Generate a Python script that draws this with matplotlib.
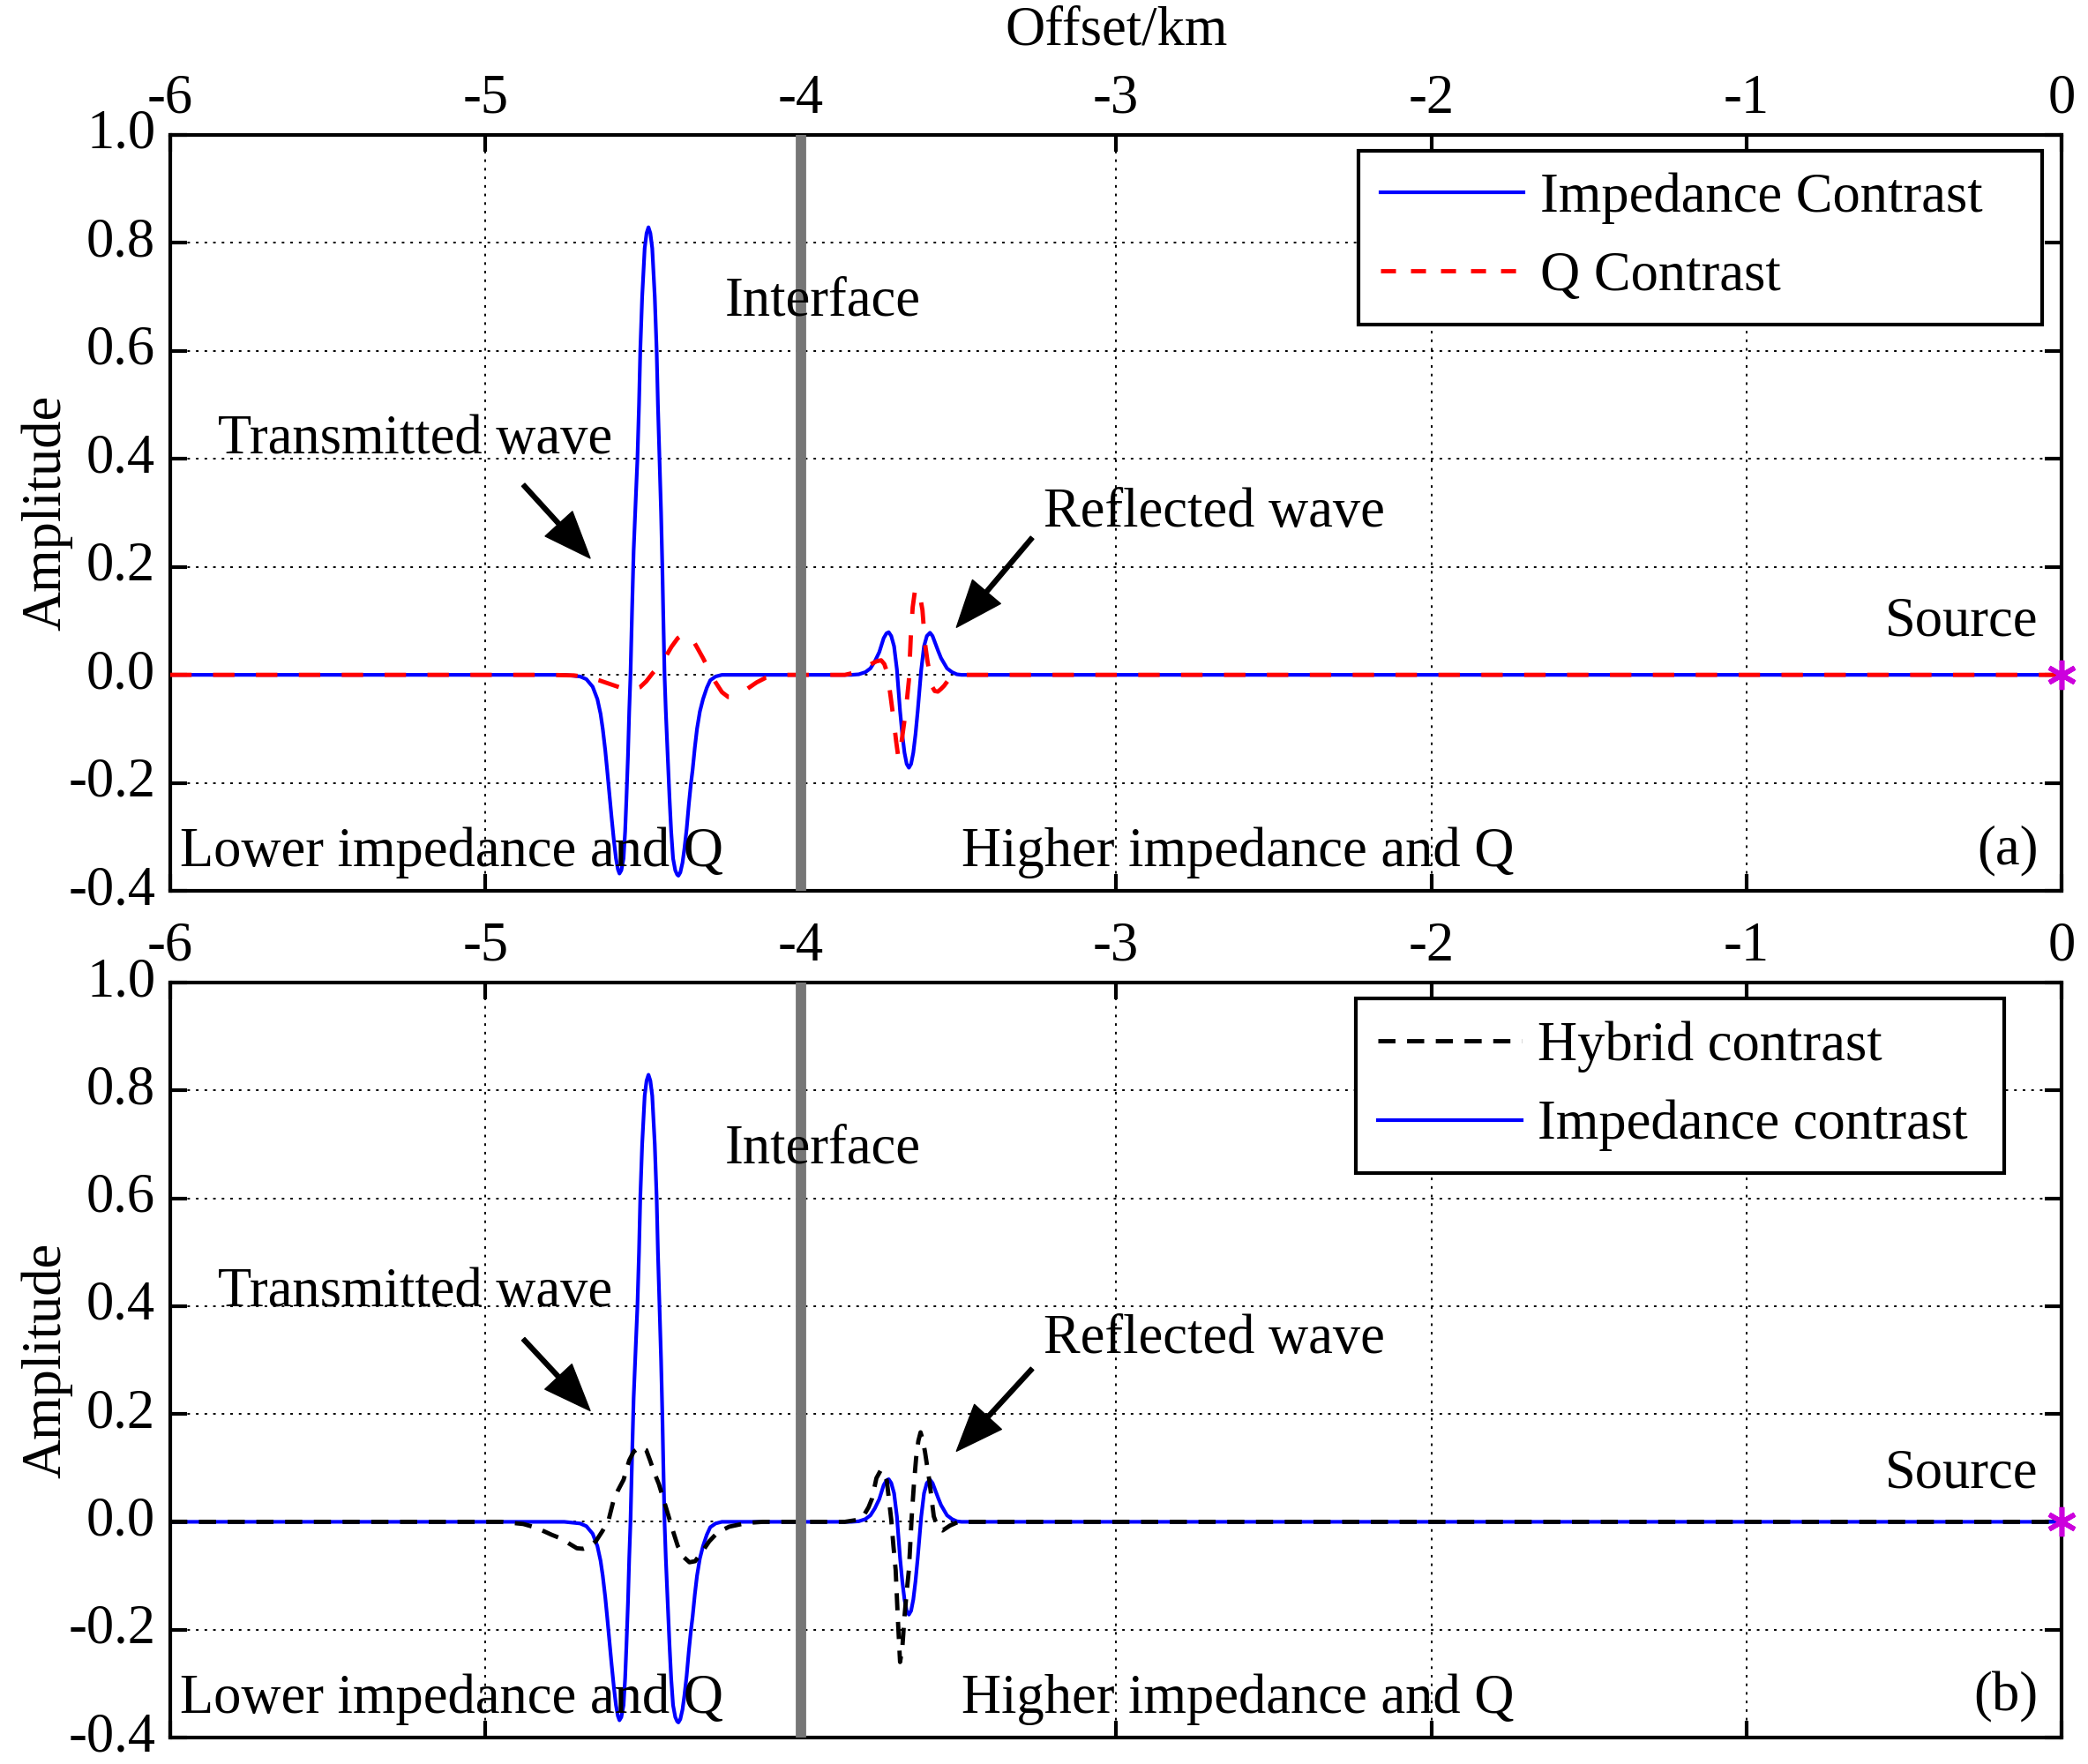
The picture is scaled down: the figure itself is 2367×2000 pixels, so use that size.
import matplotlib
matplotlib.use("Agg")
import matplotlib.pyplot as plt
from matplotlib.lines import Line2D

plt.rcParams["font.family"] = ["Liberation Serif", "DejaVu Serif"]
plt.rcParams["axes.unicode_minus"] = False

# offset range (km) and amplitude ticks
X_TICKS = [-6, -5, -4, -3, -2, -1, 0]
Y_TICKS = [-0.4, -0.2, 0.0, 0.2, 0.4, 0.6, 0.8, 1.0]
INTERFACE_X = -4.0

# impedance contrast (blue), same trace in both panels
IMP_TRANS_X = [-4.75, -4.70, -4.68, -4.66, -4.645, -4.635, -4.628, -4.620, -4.614, -4.607,
               -4.600, -4.593, -4.586, -4.580, -4.575, -4.569, -4.562, -4.557, -4.553, -4.548,
               -4.544, -4.540, -4.535, -4.530, -4.523, -4.518, -4.513, -4.509, -4.503, -4.495,
               -4.489, -4.483, -4.477, -4.471, -4.463, -4.457, -4.453, -4.448, -4.443, -4.439,
               -4.436, -4.432, -4.428, -4.422, -4.416, -4.411, -4.405, -4.398, -4.392, -4.388,
               -4.382, -4.375, -4.369, -4.362, -4.355, -4.349, -4.343, -4.336, -4.329, -4.320,
               -4.310, -4.298, -4.287, -4.270, -4.25]
IMP_TRANS_Y = [0.0, -0.003, -0.008, -0.022, -0.045, -0.072, -0.100, -0.140, -0.176, -0.220,
               -0.264, -0.305, -0.340, -0.360, -0.368, -0.362, -0.340, -0.290, -0.231, -0.150,
               -0.067, 0.0, 0.120, 0.230, 0.330, 0.400, 0.500, 0.600, 0.700, 0.790,
               0.818, 0.829, 0.818, 0.790, 0.700, 0.600, 0.500, 0.400, 0.300, 0.200,
               0.110, 0.0, -0.067, -0.150, -0.231, -0.290, -0.340, -0.362, -0.370, -0.372,
               -0.366, -0.348, -0.322, -0.286, -0.240, -0.205, -0.176, -0.135, -0.100, -0.068,
               -0.045, -0.024, -0.010, -0.003, 0.0]
IMP_REFL_X = [-3.84, -3.816, -3.795, -3.779, -3.765, -3.751, -3.737, -3.728, -3.721, -3.713,
              -3.704, -3.695, -3.685, -3.678, -3.671, -3.664, -3.657, -3.650, -3.643, -3.636,
              -3.629, -3.618, -3.609, -3.600, -3.590, -3.582, -3.573, -3.564, -3.555, -3.536,
              -3.520, -3.505, -3.49]
IMP_REFL_Y = [0.0, 0.001, 0.005, 0.012, 0.025, 0.042, 0.068, 0.077, 0.079, 0.072,
              0.053, 0.010, -0.067, -0.110, -0.144, -0.165, -0.172, -0.165, -0.144, -0.110,
              -0.067, 0.009, 0.053, 0.072, 0.078, 0.072, 0.058, 0.044, 0.031, 0.012,
              0.005, 0.001, 0.0]

# Q contrast (red dashed), panel (a)
Q_TRANS_X = [-4.80, -4.72, -4.68, -4.64, -4.60, -4.57, -4.54, -4.51, -4.49, -4.47,
             -4.45, -4.43, -4.41, -4.39, -4.37, -4.35, -4.33, -4.31, -4.29, -4.27,
             -4.25, -4.23, -4.21, -4.19, -4.17, -4.14, -4.11, -4.06]
Q_TRANS_Y = [0.0, -0.001, -0.004, -0.010, -0.018, -0.024, -0.028, -0.023, -0.012, 0.003,
             0.016, 0.032, 0.052, 0.068, 0.076, 0.072, 0.052, 0.031, 0.008, -0.014,
             -0.032, -0.041, -0.041, -0.034, -0.026, -0.014, -0.005, 0.0]
Q_REFL_X = [-3.86, -3.83, -3.80, -3.78, -3.76, -3.745, -3.735, -3.725, -3.715, -3.705,
            -3.697, -3.690, -3.684, -3.677, -3.670, -3.663, -3.657, -3.651, -3.645, -3.638,
            -3.633, -3.627, -3.620, -3.614, -3.606, -3.598, -3.590, -3.583, -3.575, -3.565,
            -3.555, -3.545, -3.530, -3.51, -3.49]
Q_REFL_Y = [0.0, 0.004, 0.012, 0.019, 0.025, 0.027, 0.020, 0.003, -0.040, -0.085,
            -0.125, -0.155, -0.140, -0.110, -0.080, -0.045, -0.010, 0.070, 0.125, 0.155,
            0.162, 0.155, 0.140, 0.120, 0.059, 0.025, 0.0, -0.022, -0.030, -0.031,
            -0.026, -0.020, -0.008, -0.002, 0.0]

# hybrid contrast (black dashed), panel (b)
HYB_TRANS_X = [-4.95, -4.88, -4.85, -4.82, -4.79, -4.76, -4.73, -4.71, -4.69, -4.67,
               -4.65, -4.63, -4.61, -4.595, -4.58, -4.562, -4.544, -4.53, -4.51, -4.49,
               -4.478, -4.465, -4.450, -4.436, -4.42, -4.408, -4.39, -4.37, -4.353, -4.335,
               -4.31, -4.29, -4.264, -4.227, -4.17, -4.12]
HYB_TRANS_Y = [0.0, -0.004, -0.009, -0.016, -0.024, -0.031, -0.042, -0.049, -0.050, -0.046,
               -0.036, -0.018, 0.002, 0.037, 0.058, 0.078, 0.114, 0.130, 0.139, 0.133,
               0.114, 0.092, 0.070, 0.043, 0.012, -0.012, -0.045, -0.066, -0.075, -0.073,
               -0.053, -0.036, -0.020, -0.009, -0.002, 0.0]
HYB_REFL_X = [-3.86, -3.816, -3.797, -3.785, -3.774, -3.760, -3.746, -3.735, -3.727, -3.713,
              -3.706, -3.699, -3.692, -3.685, -3.678, -3.671, -3.664, -3.657, -3.648, -3.641,
              -3.634, -3.627, -3.620, -3.613, -3.606, -3.592, -3.578, -3.564, -3.550, -3.527,
              -3.50]
HYB_REFL_Y = [0.0, 0.004, 0.015, 0.027, 0.043, 0.081, 0.096, 0.090, 0.076, 0.004,
              -0.045, -0.089, -0.180, -0.260, -0.235, -0.176, -0.130, -0.089, 0.010, 0.070,
              0.119, 0.150, 0.166, 0.152, 0.130, 0.076, 0.010, -0.012, -0.016, -0.007,
              0.0]

FS = 45


def full_trace(trans_x, trans_y, refl_x, refl_y):
    xs = [-6.0] + trans_x + refl_x + [0.0]
    ys = [0.0] + trans_y + refl_y + [0.0]
    return xs, ys


def style_axes(ax, top_label):
    ax.set_xlim(-6, 0)
    ax.set_ylim(-0.4, 1.0)
    ax.set_xticks(X_TICKS)
    ax.set_xticklabels([str(v) for v in X_TICKS])
    ax.set_yticks(Y_TICKS)
    ax.set_yticklabels(["%.1f" % v for v in Y_TICKS], va="center")
    ax.xaxis.tick_top()
    ax.tick_params(axis="both", direction="in", length=14, width=3, labelsize=FS,
                   top=True, bottom=True, left=True, right=True, pad=12)
    ax.tick_params(axis="x", labeltop=True, labelbottom=False, pad=8)
    for sp in ax.spines.values():
        sp.set_linewidth(3)
    ax.grid(True, color="k", linestyle=(0, (1.5, 3.5)), linewidth=1.4)
    ax.set_axisbelow(True)
    ax.set_ylabel("Amplitude", fontsize=FS, labelpad=-4)
    if top_label:
        ax.xaxis.set_label_position("top")
        ax.set_xlabel("Offset/km", fontsize=FS, labelpad=24)


def annotate_panel(ax, tag, tw_y, arrow1, rw_y, arrow2, src_y):
    ax.axvline(INTERFACE_X, color="#767676", linewidth=8.5, zorder=4)
    ax.text(-4.24, 0.69, "Interface", fontsize=FS, va="center", ha="left", zorder=5)
    ax.text(-5.85, tw_y, "Transmitted wave", fontsize=FS, va="center", ha="left", zorder=5)
    ax.text(-3.23, rw_y, "Reflected wave", fontsize=FS, va="center", ha="left", zorder=5)
    ax.text(-0.075, src_y, "Source", fontsize=FS, va="center", ha="right", zorder=5)
    ax.text(-5.97, -0.33, "Lower impedance and Q", fontsize=FS, va="center", ha="left", zorder=5)
    ax.text(-3.49, -0.33, "Higher impedance and Q", fontsize=FS, va="center", ha="left", zorder=5)
    ax.text(-0.075, -0.325, tag, fontsize=FS, va="center", ha="right", zorder=5)
    for (x0, y0, x1, y1) in (arrow1, arrow2):
        ax.annotate("", xy=(x1, y1), xytext=(x0, y0), zorder=6,
                    arrowprops=dict(facecolor="black", edgecolor="black", width=3.5,
                                    headwidth=30, headlength=38, shrink=0.0))
    ax.plot([0], [0], linestyle="none", marker=(6, 2, 0), markersize=24,
            markeredgewidth=4, color="#cc00dd", clip_on=False, zorder=7)


def add_legend(ax, handles, labels, box):
    # box = (x0, y_top, width) in axes fraction; frame stretched to the box width
    x0, y_top, w = box
    leg = ax.legend(handles, labels, loc="upper left", bbox_to_anchor=(x0, y_top - 0.3, w, 0.3),
                    mode="expand", fontsize=FS, fancybox=False, framealpha=1,
                    edgecolor="black", handlelength=2.6, handletextpad=0.3,
                    labelspacing=0.5, borderpad=0.4, borderaxespad=0.0)
    leg.get_frame().set_linewidth(3)
    leg.set_zorder(10)


imp_x, imp_y = full_trace(IMP_TRANS_X, IMP_TRANS_Y, IMP_REFL_X, IMP_REFL_Y)
q_x, q_y = full_trace(Q_TRANS_X, Q_TRANS_Y, Q_REFL_X, Q_REFL_Y)
hyb_x, hyb_y = full_trace(HYB_TRANS_X, HYB_TRANS_Y, HYB_REFL_X, HYB_REFL_Y)

fig = plt.figure(figsize=(23.67, 20), dpi=100)
ax_a = fig.add_axes([0.0815, 0.495, 0.906, 0.4285])
ax_b = fig.add_axes([0.0815, 0.015, 0.906, 0.428])

# panel (a)
style_axes(ax_a, True)
ax_a.plot(imp_x, imp_y, color="#0000ff", linewidth=3, zorder=2)
ax_a.plot(q_x, q_y, color="#ff0000", linewidth=3.5, linestyle=(0, (5, 5)), zorder=3)
annotate_panel(ax_a, "(a)", 0.434, (-4.88, 0.352, -4.668, 0.216), 0.30,
               (-3.266, 0.254, -3.506, 0.088), 0.098)
add_legend(ax_a,
           [Line2D([], [], color="#0000ff", linewidth=3),
            Line2D([], [], color="#ff0000", linewidth=3.5, linestyle=(0, (3.5, 3.5)))],
           ["Impedance Contrast", "Q Contrast"], (0.628, 0.9795, 0.3614))

# panel (b)
style_axes(ax_b, False)
ax_b.plot(imp_x, imp_y, color="#0000ff", linewidth=3, zorder=2)
ax_b.plot(hyb_x, hyb_y, color="black", linewidth=3.5, linestyle=(0, (4, 2.7)), zorder=3)
annotate_panel(ax_b, "(b)", 0.424, (-4.88, 0.339, -4.668, 0.206), 0.337,
               (-3.266, 0.284, -3.506, 0.131), 0.089)
add_legend(ax_b,
           [Line2D([], [], color="black", linewidth=3.5, linestyle=(0, (4, 2.7))),
            Line2D([], [], color="#0000ff", linewidth=3)],
           ["Hybrid contrast", "Impedance contrast"], (0.6268, 0.9788, 0.3428))

fig.savefig("out.png", dpi=100)
plt.close(fig)
